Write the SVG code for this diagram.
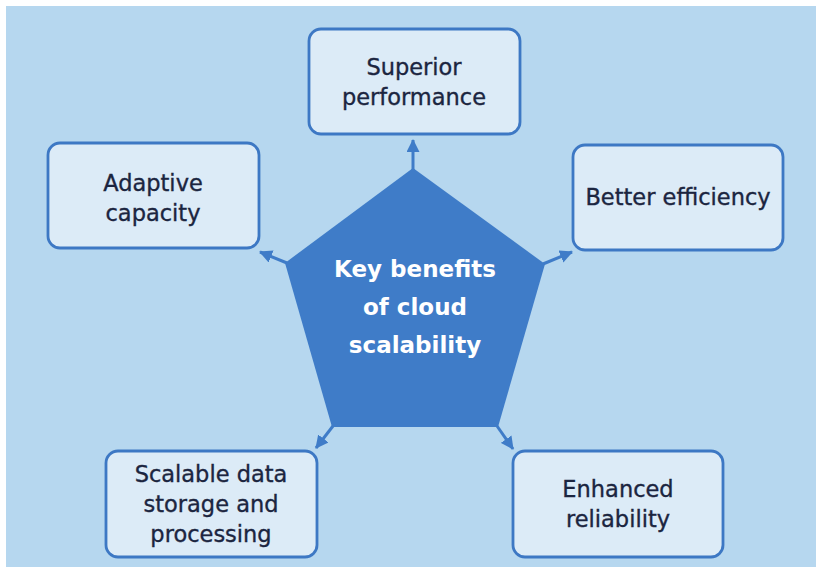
<svg xmlns="http://www.w3.org/2000/svg" width="816" height="571" viewBox="0 0 816 571">
<defs>
<style>
.box{fill:#dcebf7;stroke:#3d78c4;stroke-width:2.8}
.t{font-family:"DejaVu Sans","Liberation Sans",sans-serif;font-size:22.5px;fill:#1b2540;stroke:#1b2540;stroke-width:0.35;text-anchor:middle}
.c{font-family:"DejaVu Sans","Liberation Sans",sans-serif;font-size:23px;font-weight:bold;fill:#ffffff;text-anchor:middle}
.arr{stroke:#3f7cc8;stroke-width:3;fill:none;marker-end:url(#ah)}
</style>
<marker id="ah" markerUnits="userSpaceOnUse" markerWidth="13" markerHeight="13" viewBox="0 0 13 13" refX="12" refY="6.5" orient="auto">
<path d="M0,0 L13,6.5 L0,13 Z" fill="#3f7cc8"/>
</marker>
</defs>
<rect x="0" y="0" width="816" height="571" fill="#ffffff"/>
<rect x="6" y="6" width="810" height="561" fill="#b6d7ef"/>
<g id="connectors">
<line class="arr" x1="413" y1="170" x2="413" y2="140"/>
<line class="arr" x1="287" y1="263" x2="260" y2="252"/>
<line class="arr" x1="543" y1="264" x2="572" y2="252"/>
<line class="arr" x1="333" y1="426" x2="316" y2="448"/>
<line class="arr" x1="497" y1="426" x2="513" y2="449"/>
</g>
<g id="center">
<polygon points="413,168 545,264 498,427 332,427 285,263" fill="#3f7cc8"/>
<text class="c" x="415" y="277">Key benefits</text>
<text class="c" x="415" y="315">of cloud</text>
<text class="c" x="415" y="353">scalability</text>
</g>
<g id="superior">
<rect class="box" x="309" y="29" width="211" height="105" rx="12"/>
<text class="t" x="414" y="75">Superior</text>
<text class="t" x="414" y="105">performance</text>
</g>
<g id="adaptive">
<rect class="box" x="48" y="143" width="211" height="105" rx="12"/>
<text class="t" x="153" y="191">Adaptive</text>
<text class="t" x="153" y="221">capacity</text>
</g>
<g id="efficiency">
<rect class="box" x="573" y="145" width="210" height="105" rx="12"/>
<text class="t" x="678" y="205">Better efficiency</text>
</g>
<g id="storage">
<rect class="box" x="106" y="451" width="211" height="106" rx="12"/>
<text class="t" x="211" y="482">Scalable data</text>
<text class="t" x="211" y="512">storage and</text>
<text class="t" x="211" y="542">processing</text>
</g>
<g id="reliability">
<rect class="box" x="513" y="451" width="210" height="106" rx="12"/>
<text class="t" x="618" y="497">Enhanced</text>
<text class="t" x="618" y="527">reliability</text>
</g>
</svg>
